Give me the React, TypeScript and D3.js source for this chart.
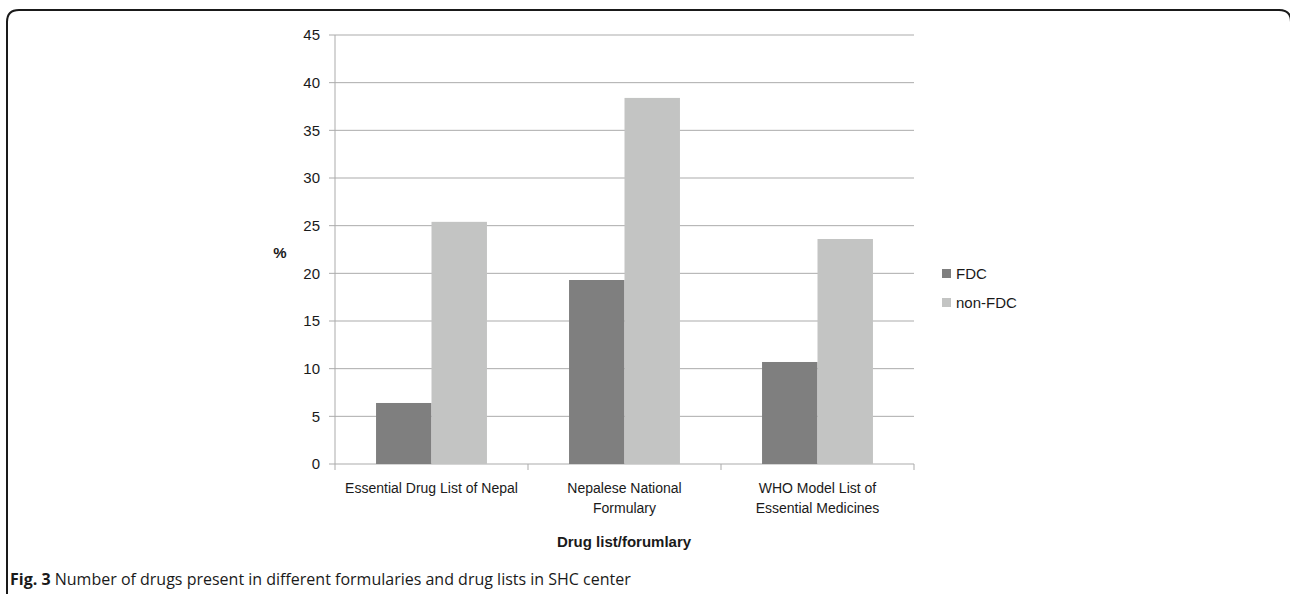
import React from "react";
import * as d3 from "d3";

const categories = [
  ["Essential Drug List of Nepal"],
  ["Nepalese National", "Formulary"],
  ["WHO Model List of", "Essential Medicines"],
];
const seriesNames = ["FDC", "non-FDC"];
const fdcValues = [6.4, 19.3, 10.7];
const nonFdcValues = [25.4, 38.4, 23.6];
const yTicks = [0, 5, 10, 15, 20, 25, 30, 35, 40, 45];
const colors = ["#7f7f7f", "#c3c4c3"];

export default function App() {
  const W = 1290, H = 594;
  const left = 335, right = 914, top = 35, bottom = 464;
  const x = d3.scaleBand<number>().domain([0, 1, 2]).range([left, right]).paddingInner(0).paddingOuter(0);
  const y = d3.scaleLinear().domain([0, 45]).range([bottom, top]);
  const inner = d3.scaleBand<number>().domain([0, 1]).range([0, x.bandwidth()]).paddingOuter(0.74).paddingInner(0);
  const series = [fdcValues, nonFdcValues];
  const font = "'Liberation Sans', Arial, sans-serif";
  const r = 12;
  const bx = 7, by = 10, bx2 = 1291;
  const border = `M${bx},${H + 20} L${bx},${by + r} Q${bx},${by} ${bx + r},${by} L${bx2 - r},${by} Q${bx2},${by} ${bx2},${by + r} L${bx2},${H + 20}`;
  return (
    <svg width={W} height={H} style={{ position: "absolute", left: 0, top: 0, background: "#fff" }}>
      <path d={border} fill="none" stroke="#1a1a1a" strokeWidth={2} />
      {yTicks.map((t) => (
        <g key={t}>
          <line x1={left - 6} x2={right} y1={y(t)} y2={y(t)} stroke="#ababab" strokeWidth={1} />
          <text x={320} y={y(t)} dy="0.35em" textAnchor="end" fontFamily={font} fontSize={15} fill="#1a1a1a">{t}</text>
        </g>
      ))}
      <line x1={left} x2={left} y1={top} y2={bottom} stroke="#ababab" />
      {[0, 1, 2, 3].map((i) => {
        const xx = left + i * x.bandwidth();
        return <line key={i} x1={xx} x2={xx} y1={bottom} y2={bottom + 6} stroke="#ababab" />;
      })}
      {series.map((vals, si) =>
        vals.map((v, ci) => (
          <rect key={`${si}-${ci}`} x={(x(ci) as number) + (inner(si) as number)} y={y(v)} width={inner.bandwidth()} height={bottom - y(v)} fill={colors[si]} />
        ))
      )}
      {categories.map((lines, ci) => (
        <text key={ci} x={(x(ci) as number) + x.bandwidth() / 2} y={493} textAnchor="middle" fontFamily={font} fontSize={14} fill="#1a1a1a">
          {lines.map((l, li) => (
            <tspan key={li} x={(x(ci) as number) + x.bandwidth() / 2} dy={li === 0 ? 0 : 20}>{l}</tspan>
          ))}
        </text>
      ))}
      <text x={624} y={547} textAnchor="middle" fontFamily={font} fontSize={15} fontWeight="bold" fill="#1a1a1a">Drug list/forumlary</text>
      <text x={280} y={258} textAnchor="middle" fontFamily={font} fontSize={15} fontWeight="bold" fill="#1a1a1a">%</text>
      {seriesNames.map((n, i) => (
        <g key={n}>
          <rect x={942} y={269 + i * 29} width={9} height={9} fill={colors[i]} />
          <text x={956} y={274 + i * 29} dy="0.35em" fontFamily={font} fontSize={15} fill="#1a1a1a">{n}</text>
        </g>
      ))}
      <text x={10} y={585} fontFamily="'Open Sans', sans-serif" fontSize={16} fill="#1a1a1a">
        <tspan fontWeight="bold">Fig. 3</tspan> Number of drugs present in different formularies and drug lists in SHC center
      </text>
    </svg>
  );
}
